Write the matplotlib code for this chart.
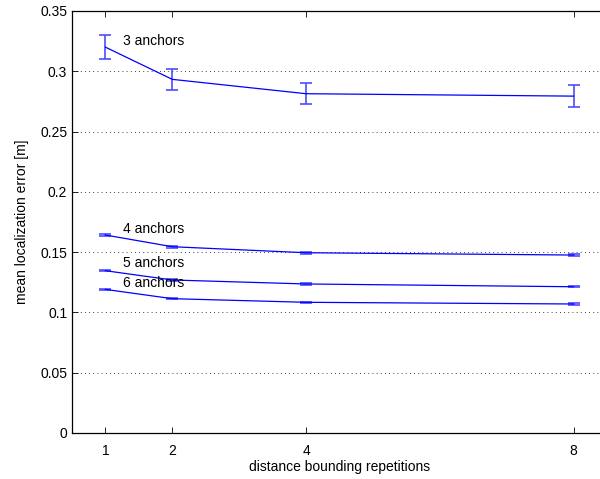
import numpy as np
import matplotlib
matplotlib.use("Agg")
import matplotlib.pyplot as plt

plt.rcParams['font.family'] = ['Liberation Sans', 'DejaVu Sans']

# repetitions on the x axis
reps = [1, 2, 4, 8]

# mean localization error per number of anchors, with error bar half-widths
err3 = [0.320, 0.2933, 0.2814, 0.2794]
ci3 = [0.0100, 0.0090, 0.0089, 0.0090]
err4 = [0.1642, 0.1545, 0.1495, 0.1476]
ci4 = [0.0012, 0.0010, 0.0008, 0.0008]
err5 = [0.1346, 0.1269, 0.1236, 0.1213]
ci5 = [0.0006, 0.0006, 0.0006, 0.0006]
err6 = [0.1191, 0.1114, 0.1084, 0.1070]
ci6 = [0.0006, 0.0006, 0.0006, 0.0006]

labels = ['3 anchors', '4 anchors', '5 anchors', '6 anchors']
label_y = [0.325, 0.169, 0.141, 0.124]

yticks = [0, 0.05, 0.1, 0.15, 0.2, 0.25, 0.3, 0.35]
yticklabels = ['0', '0.05', '0.1', '0.15', '0.2', '0.25', '0.3', '0.35']

fig = plt.figure(figsize=(6.0, 4.79), dpi=100)
# axes box runs a little past the right edge of the image, as in the original
ax = fig.add_axes([72 / 600, 46 / 479, 535 / 600, 422 / 479])

for vals, ci in [(err3, ci3), (err4, ci4), (err5, ci5), (err6, ci6)]:
    ax.errorbar(reps, vals, yerr=ci, color='blue', ecolor=(0.3, 0.3, 1.0),
                linewidth=0.9, elinewidth=1.2, capsize=4.5, capthick=1.2)

for lab, ly in zip(labels, label_y):
    ax.text(1.27, ly, lab, fontsize=10, va='center', ha='left')

ax.set_xlim(0.5, 8.5)
ax.set_ylim(0, 0.35)
ax.set_xticks(reps)
ax.set_xticklabels([str(r) for r in reps])
ax.set_yticks(yticks)
ax.set_yticklabels(yticklabels)
ax.tick_params(direction='in', top=True, right=False, labelsize=10, length=4, width=0.6)
ax.tick_params(axis='x', pad=8)
ax.yaxis.grid(True, linestyle=(0, (1, 4)), color='black', linewidth=0.6)
ax.spines['right'].set_visible(False)
for s in ax.spines.values():
    s.set_linewidth(0.9)

ax.set_xlabel('distance bounding repetitions', fontsize=10, labelpad=1)
ax.set_ylabel('mean localization error [m]', fontsize=10, labelpad=8)

fig.savefig('out.png', dpi=100)
